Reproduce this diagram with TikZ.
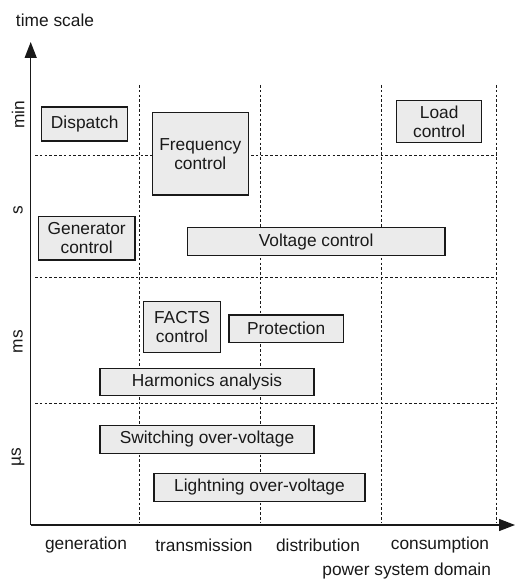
\documentclass[tikz,border=0pt]{standalone}
\usepackage{fontspec}
\setmainfont{Liberation Sans}
\usetikzlibrary{arrows.meta}
\begin{document}
\begin{tikzpicture}[x=0.75pt,y=-0.75pt,
  every node/.style={font=\fontsize{13}{14.4}\selectfont, text=black!90},
  box/.style={draw=black!90, fill=black!8, line width=0.9pt, align=center, inner sep=0pt},
  grid/.style={line width=0.85pt, dash pattern=on 1.9pt off 1.7pt, black!90},
  axis/.style={line width=1pt, black!90, -{Triangle[length=12pt,width=9pt]}}]
\useasboundingbox (0,0) rectangle (515,581);
% grid lines
\foreach \x in {139.3,260.2,381.7,496.7} \draw[grid] (\x,85) -- (\x,522);
\foreach \y in {155.3,277.3,403.7} \draw[grid] (35,\y) -- (496.7,\y);
% axes
\coordinate (origin) at (30.7,525);
\coordinate (ytip) at (30.7,42);
\coordinate (xtip) at (515,525);
\draw[axis] (origin) -- (ytip);
\draw[axis] (origin) -- (xtip);
% axis titles
\node (ttl) at (55,20) {time scale};
\node (ptl) at (406.7,571) {power system domain};
% y labels
\node[rotate=90] (lmin) at (18,115) {min};
\node[rotate=90] (ls) at (18,210) {s};
\node[rotate=90] (lms) at (18,341.7) {ms};
\node[rotate=90] (lus) at (18,456.7) {µs};
% x labels
\node (lgen) at (86,545) {generation};
\node (ltra) at (204,545) {transmission};
\node (ldis) at (318,545) {distribution};
\node (lcon) at (440,545) {consumption};
% boxes
\node[box, minimum width=64.5pt, minimum height=25.5pt] (dispatch) at (84.7,124) {Dispatch};
\node[box, minimum width=72pt, minimum height=61.7pt] (freq) at (200.3,153.85) {Frequency\\control};
\node[box, minimum width=72.5pt, minimum height=32.5pt] (gen) at (86.65,238.35) {Generator\\control};
\node[box, minimum width=193.3pt, minimum height=21pt] (volt) at (316.15,241.7) {Voltage control};
\node[box, minimum width=63.75pt, minimum height=31.2pt] (load) at (439.2,121.5) {Load\\control};
\node[box, minimum width=58pt, minimum height=38.25pt] (facts) at (182,327.2) {FACTS\\control};
\node[box, minimum width=85.7pt, minimum height=20.5pt] (prot) at (286.15,328.65) {Protection};
\node[box, minimum width=160.5pt, minimum height=20.5pt] (harm) at (207,382) {Harmonics analysis};
\node[box, minimum width=160.5pt, minimum height=20.7pt] (switch) at (207,439.5) {Switching over-voltage};
\node[box, minimum width=158.25pt, minimum height=21.3pt] (light) at (259.5,487.5) {Lightning over-voltage};
\end{tikzpicture}
\end{document}
